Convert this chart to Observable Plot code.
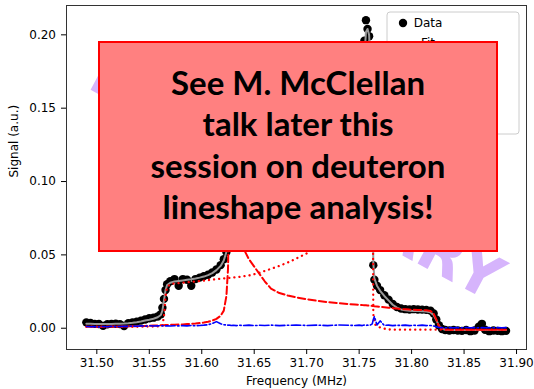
<!DOCTYPE html>
<html><head><meta charset="utf-8">
<script src="https://cdn.jsdelivr.net/npm/d3@7"></script>
<script src="https://cdn.jsdelivr.net/npm/@observablehq/plot@0.6"></script>
<style>body{margin:0;background:#fff;} svg{display:block}</style>
</head><body><div id="chart"></div>
<script>
const freq = [
31.490, 31.494, 31.498, 31.502, 31.506, 31.510, 31.514, 31.518, 31.522, 31.526,
31.530, 31.534, 31.538, 31.542, 31.546, 31.550, 31.554, 31.558, 31.561, 31.5625,
31.564, 31.5655, 31.567, 31.570, 31.574, 31.578, 31.582, 31.586, 31.590, 31.594,
31.598, 31.602, 31.606, 31.610, 31.614, 31.618, 31.621, 31.6235, 31.625, 31.626,
31.627, 31.628, 31.630, 31.633, 31.636, 31.640, 31.645, 31.650, 31.655, 31.660,
31.666, 31.674, 31.682, 31.690, 31.700, 31.710, 31.720, 31.730, 31.740, 31.746,
31.750, 31.753, 31.755, 31.7565, 31.758, 31.7595, 31.761, 31.7625, 31.7635, 31.7645,
31.767, 31.770, 31.774, 31.778, 31.782, 31.786, 31.790, 31.794, 31.798, 31.802,
31.806, 31.810, 31.814, 31.818, 31.821, 31.8235, 31.826, 31.829, 31.832, 31.836,
31.840, 31.844, 31.848, 31.852, 31.856, 31.860, 31.864, 31.867, 31.870, 31.874,
31.878, 31.882, 31.886, 31.890];

const signal = [
0.0040, 0.0036, 0.0030, 0.0029, 0.0016, 0.0027, 0.0030, 0.0031, 0.0028, 0.0015,
0.0035, 0.0040, 0.0045, 0.0052, 0.0060, 0.0068, 0.0072, 0.0080, 0.0095, 0.0140,
0.0200, 0.0260, 0.0300, 0.0320, 0.0335, 0.0290, 0.0335, 0.0330, 0.0290, 0.0335,
0.0345, 0.0355, 0.0365, 0.0380, 0.0400, 0.0430, 0.0470, 0.0520, 0.0620, 0.0900,
0.1400, 0.1650, 0.1500, 0.1150, 0.1000, 0.0900, 0.0830, 0.0780, 0.0750, 0.0720,
0.0700, 0.0690, 0.0700, 0.0720, 0.0760, 0.0820, 0.0900, 0.1000, 0.1150, 0.1280,
0.1400, 0.1600, 0.1960, 0.2100, 0.2040, 0.1990, 0.1750, 0.1200, 0.0430, 0.0330,
0.0290, 0.0260, 0.0225, 0.0195, 0.0165, 0.0145, 0.0135, 0.0130, 0.0128, 0.0130,
0.0128, 0.0127, 0.0125, 0.0120, 0.0100, 0.0060, 0.0020, -0.0005, -0.0012, -0.0015,
-0.0012, -0.0015, -0.0018, -0.0012, -0.0020, -0.0015, 0.0010, 0.0030, -0.0010, -0.0020,
-0.0015, -0.0018, -0.0020, -0.0018];

const fit = [
0.0030, 0.0030, 0.0029, 0.0028, 0.0028, 0.0028, 0.0029, 0.0030, 0.0031, 0.0032,
0.0034, 0.0037, 0.0041, 0.0046, 0.0052, 0.0058, 0.0065, 0.0075, 0.0090, 0.0120,
0.0190, 0.0260, 0.0295, 0.0310, 0.0318, 0.0322, 0.0326, 0.0330, 0.0334, 0.0339,
0.0345, 0.0352, 0.0362, 0.0376, 0.0396, 0.0425, 0.0462, 0.0520, 0.0640, 0.0900,
0.1350, 0.1600, 0.1450, 0.1130, 0.0990, 0.0890, 0.0820, 0.0775, 0.0745, 0.0720,
0.0700, 0.0690, 0.0700, 0.0722, 0.0760, 0.0815, 0.0890, 0.0990, 0.1140, 0.1270,
0.1400, 0.1620, 0.1850, 0.2020, 0.2040, 0.2000, 0.1780, 0.1250, 0.0450, 0.0340,
0.0290, 0.0255, 0.0220, 0.0190, 0.0160, 0.0140, 0.0128, 0.0122, 0.0119, 0.0118,
0.0117, 0.0116, 0.0114, 0.0108, 0.0090, 0.0055, 0.0018, -0.0004, -0.0010, -0.0012,
-0.0012, -0.0012, -0.0012, -0.0012, -0.0012, -0.0012, -0.0012, -0.0012, -0.0012, -0.0012,
-0.0012, -0.0012, -0.0012, -0.0012];

const positiveCurve = [
0.0010, 0.0010, 0.0010, 0.0010, 0.0010, 0.0011, 0.0011, 0.0011, 0.0012, 0.0012,
0.0013, 0.0013, 0.0014, 0.0015, 0.0016, 0.0017, 0.0018, 0.0019, 0.0020, 0.0021,
0.0021, 0.0022, 0.0022, 0.0023, 0.0024, 0.0025, 0.0026, 0.0028, 0.0030, 0.0032,
0.0035, 0.0039, 0.0044, 0.0052, 0.0064, 0.0085, 0.0120, 0.0220, 0.0400, 0.0750,
0.1200, 0.1350, 0.1100, 0.0800, 0.0650, 0.0540, 0.0470, 0.0420, 0.0370, 0.0320,
0.0270, 0.0240, 0.0223, 0.0210, 0.0198, 0.0187, 0.0178, 0.0171, 0.0165, 0.0162,
0.0160, 0.0158, 0.0157, 0.0156, 0.0155, 0.0154, 0.0153, 0.0152, 0.0151, 0.0150,
0.0148, 0.0146, 0.0143, 0.0140, 0.0137, 0.0134, 0.0131, 0.0129, 0.0127, 0.0126,
0.0125, 0.0124, 0.0122, 0.0117, 0.0100, 0.0060, 0.0015, -0.0005, -0.0009, -0.0010,
-0.0010, -0.0010, -0.0010, -0.0010, -0.0010, -0.0010, -0.0010, -0.0010, -0.0010, -0.0010,
-0.0010, -0.0010, -0.0010, -0.0010];

const negativeCurve = [
0.0010, 0.0010, 0.0010, 0.0010, 0.0010, 0.0010, 0.0010, 0.0010, 0.0010, 0.0010,
0.0010, 0.0010, 0.0010, 0.0010, 0.0011, 0.0011, 0.0011, 0.0012, 0.0013, 0.0020,
0.0080, 0.0220, 0.0280, 0.0300, 0.0305, 0.0308, 0.0310, 0.0313, 0.0316, 0.0319,
0.0322, 0.0325, 0.0328, 0.0331, 0.0334, 0.0337, 0.0339, 0.0341, 0.0342, 0.0343,
0.0344, 0.0345, 0.0346, 0.0348, 0.0350, 0.0354, 0.0360, 0.0368, 0.0378, 0.0390,
0.0405, 0.0425, 0.0448, 0.0475, 0.0510, 0.0560, 0.0620, 0.0700, 0.0820, 0.0920,
0.1020, 0.1130, 0.1230, 0.1330, 0.1450, 0.1600, 0.1780, 0.1900, 0.0100, 0.0030,
0.0015, 0.0005, -0.0003, -0.0008, -0.0010, -0.0010, -0.0010, -0.0010, -0.0010, -0.0010,
-0.0010, -0.0010, -0.0010, -0.0010, -0.0010, -0.0010, -0.0010, -0.0010, -0.0010, -0.0010,
-0.0010, -0.0010, -0.0010, -0.0010, -0.0010, -0.0010, -0.0010, -0.0010, -0.0010, -0.0010,
-0.0010, -0.0010, -0.0010, -0.0010];

const baseline = [
0.0012, 0.0010, 0.0011, 0.0009, 0.0012, 0.0010, 0.0013, 0.0011, 0.0012, 0.0014,
0.0012, 0.0015, 0.0013, 0.0016, 0.0014, 0.0017, 0.0015, 0.0016, 0.0017, 0.0016,
0.0018, 0.0016, 0.0017, 0.0015, 0.0017, 0.0016, 0.0018, 0.0016, 0.0019, 0.0017,
0.0019, 0.0021, 0.0024, 0.0032, 0.0045, 0.0030, 0.0024, 0.0022, 0.0021, 0.0020,
0.0021, 0.0019, 0.0020, 0.0018, 0.0020, 0.0019, 0.0021, 0.0018, 0.0020, 0.0019,
0.0021, 0.0018, 0.0020, 0.0022, 0.0019, 0.0021, 0.0018, 0.0022, 0.0020, 0.0019,
0.0021, 0.0018, 0.0022, 0.0019, 0.0021, 0.0020, 0.0023, 0.0030, 0.0060, 0.0080,
0.0022, 0.0050, 0.0019, 0.0021, 0.0018, 0.0020, 0.0019, 0.0021, 0.0018, 0.0020,
0.0019, 0.0021, 0.0018, 0.0019, 0.0015, 0.0010, 0.0005, 0.0004, 0.0003, 0.0004,
0.0003, 0.0004, 0.0003, 0.0005, 0.0003, 0.0004, 0.0003, 0.0004, 0.0003, 0.0004,
0.0003, 0.0004, 0.0003, 0.0004];

const xTicks = [31.50, 31.55, 31.60, 31.65, 31.70, 31.75, 31.80, 31.85, 31.90];
const yTicks = [0.00, 0.05, 0.10, 0.15, 0.20];
const legendLabels = ["Data", "Fit", "Positive curve", "Positive line", "Negative curve", "Negative line"];
const boxLines = ["See M. McClellan", "talk later this", "session on deuteron", "lineshape analysis!"];
const watermark = ["PRELIMINARY"];
const xLabel = ["Frequency (MHz)"];
const yLabel = ["Signal (a.u.)"];

const rows = freq.map((f, i) => ({f, signal: signal[i], fit: fit[i], a: positiveCurve[i], b: negativeCurve[i], bg: baseline[i]}));

const dashA = "7.4,3.2", dashB = "0.1,5", dashBg = "9.6,2.4,1.5,2.4";

const chart = Plot.plot({
  width: 534, height: 389,
  marginLeft: 66, marginRight: 8, marginTop: 5, marginBottom: 40,
  style: {fontFamily: "DejaVu Sans", fontSize: "12px", background: "#fff", overflow: "visible", color: "#000"},
  x: {domain: [31.4711, 31.9095], label: null},
  y: {domain: [-0.0145, 0.22], label: null},
  marks: [
    Plot.text(watermark, {frameAnchor: "middle", rotate: 28, fontSize: 60, fontWeight: "bold", fill: "#d6b4fc", fontFamily: "DejaVu Sans"}),
    Plot.dot(rows, {x: "f", y: "signal", r: 4.2, fill: "black", stroke: "none"}),
    Plot.line(rows, {x: "f", y: "fit", stroke: "#999", strokeWidth: 2}),
    Plot.line(rows, {x: "f", y: "a", stroke: "red", strokeWidth: 2, strokeDasharray: dashA}),
    Plot.line(rows, {x: "f", y: "b", stroke: "red", strokeWidth: 2.3, strokeDasharray: dashB, strokeLinecap: "round"}),
    Plot.line(rows, {x: "f", y: "bg", stroke: "blue", strokeWidth: 1.6, strokeDasharray: dashBg}),
    Plot.frame({stroke: "#333"}),
    Plot.axisX(xTicks, {tickFormat: d => d.toFixed(2), tickSize: 5, tickPadding: 4, fontSize: 12, label: null}),
    Plot.axisY(yTicks, {tickFormat: d => d.toFixed(2), tickSize: 5, tickPadding: 5.5, fontSize: 12, label: null}),
    Plot.text(xLabel, {frameAnchor: "bottom", dy: 35, fontSize: 12}),
    Plot.text(yLabel, {frameAnchor: "left", dx: -52.5, rotate: -90, fontSize: 12})
  ]
});
document.getElementById("chart").appendChild(chart);

const svg = d3.select(chart);
// legend
const lg = svg.append("g");
lg.append("rect").attr("x", 387).attr("y", 12).attr("width", 132).attr("height", 122)
  .attr("rx", 3).attr("fill", "#fff").attr("fill-opacity", 0.8).attr("stroke", "#ccc");
const legendStyles = [
  {type: "dot"},
  {type: "line", stroke: "#999", w: 2, dash: null},
  {type: "line", stroke: "red", w: 2, dash: dashA},
  {type: "line", stroke: "red", w: 2.3, dash: dashB},
  {type: "line", stroke: "blue", w: 1.6, dash: dashBg},
  {type: "line", stroke: "blue", w: 1.6, dash: "3,2"}
];
legendLabels.forEach((lab, i) => {
  const yy = 23 + 19.7 * i;
  const s = legendStyles[i];
  if (s.type === "dot") lg.append("circle").attr("cx", 403).attr("cy", yy).attr("r", 4.2).attr("fill", "black");
  else lg.append("line").attr("x1", 392).attr("x2", 415).attr("y1", yy).attr("y2", yy)
    .attr("stroke", s.stroke).attr("stroke-width", s.w).attr("stroke-dasharray", s.dash)
    .attr("stroke-linecap", s.dash === dashB ? "round" : "butt");
  lg.append("text").attr("x", 428).attr("y", yy).attr("dy", "0.35em").attr("font-size", 12)
    .attr("font-family", "DejaVu Sans").attr("fill", "#000").text(lab);
});
// annotation box
const bx = svg.append("g");
bx.append("rect").attr("x", 99).attr("y", 42).attr("width", 398).attr("height", 209)
  .attr("fill", "#ff8080").attr("stroke", "red").attr("stroke-width", 2);
boxLines.forEach((t, i) => {
  bx.append("text").attr("x", 298).attr("y", 95 + 41.3 * i).attr("text-anchor", "middle")
    .attr("font-family", "Lato").attr("font-weight", "bold").attr("font-size", 33)
    .attr("fill", "#000").text(t);
});
</script></body></html>
